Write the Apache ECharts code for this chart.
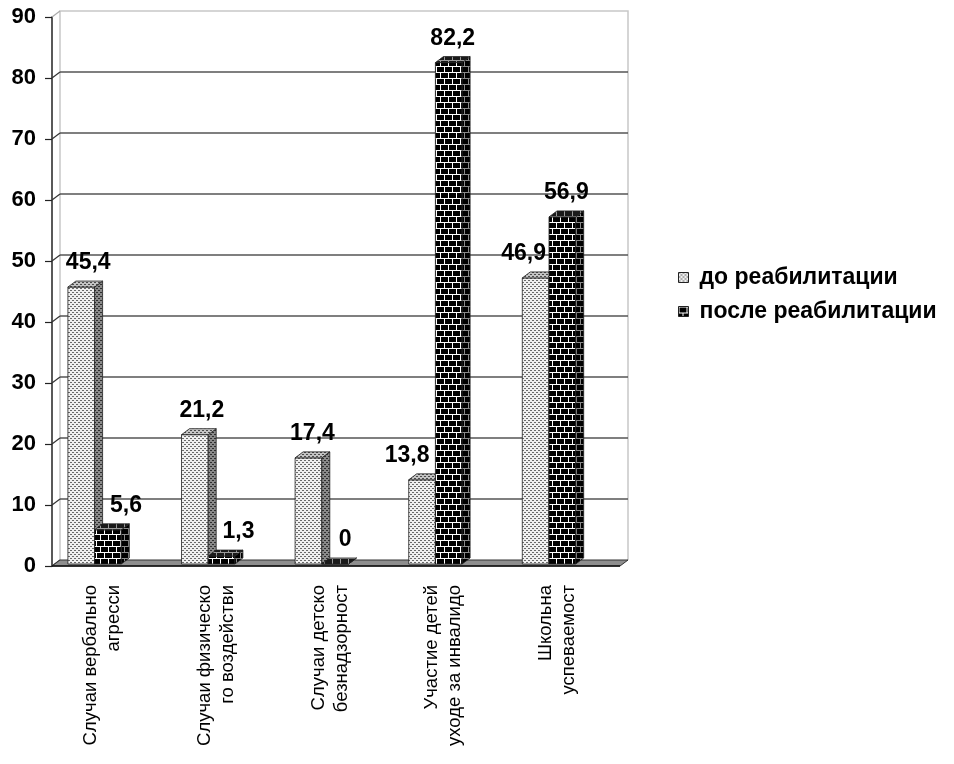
<!DOCTYPE html>
<html><head><meta charset="utf-8">
<script src="https://cdn.jsdelivr.net/npm/echarts@6/dist/echarts.min.js"></script>
<style>html,body{margin:0;padding:0;background:#fff}#c{width:954px;height:764px}</style>
</head><body><div id="c"></div>
<script>
// ---- data ----
const categories = [
  "Случаи вербально\nагресси",
  "Случаи физическо\nго воздействи",
  "Случаи детско\nбезнадзорност",
  "Участие детей\nуходе за инвалидо",
  "Школьна\nуспеваемост"
];
const seriesNames = ["до реабилитации", "после реабилитации"];
const before = [45.4, 21.2, 17.4, 13.8, 46.9];
const after = [5.6, 1.3, 0, 82.2, 56.9];
const yMin = 0, yMax = 90, yStep = 10;

// ---- styling helpers (not data) ----
const FONT = "'Liberation Sans', Arial, sans-serif";
const DX = 8, DY = 6, LIFT = 2;
const labelShiftBefore = [3, 3, 0, -19, -16];
const labelShiftAfter = [14, 13, 6, 0, 0];

function makePattern(w, h, draw) {
  const c = document.createElement('canvas');
  c.width = w; c.height = h;
  const g = c.getContext('2d');
  draw(g);
  return { image: c, repeat: 'repeat' };
}
function dots(bg, fg) {
  return makePattern(4, 4, g => {
    g.fillStyle = bg; g.fillRect(0, 0, 4, 4);
    g.fillStyle = fg; g.fillRect(0, 0, 2, 1); g.fillRect(2, 2, 2, 1);
  });
}
function bricks(bg, fg) {
  return makePattern(8, 12, g => {
    g.fillStyle = bg; g.fillRect(0, 0, 8, 12);
    g.fillStyle = fg;
    g.fillRect(0, 0, 8, 1); g.fillRect(0, 6, 8, 1);
    g.fillRect(0, 1, 1, 5); g.fillRect(4, 7, 1, 5);
  });
}
const P = {
  dotFront: dots('#f0f0f0', '#6a6a6a'),
  dotSide: dots('#8a8a8a', '#2e2e2e'),
  dotTop: dots('#c4c4c4', '#4a4a4a'),
  brickFront: bricks('#000000', '#ffffff'),
  brickSide: bricks('#000000', '#8a8a8a'),
  brickTop: bricks('#1a1a1a', '#9a9a9a')
};
const fills = [
  [P.dotFront, P.dotSide, P.dotTop],
  [P.brickFront, P.brickSide, P.brickTop]
];
const fmt = v => String(v).replace('.', ',');

function barRender(s, shifts) {
  return function (params, api) {
    const i = api.value(0), v = api.value(1);
    const base = api.coord([i, 0]), top = api.coord([i, v]);
    const band = api.size([1, 0])[0];
    const w = band * 0.235, gc = base[0] - band * 0.125;
    const x0 = s === 0 ? gc - w : gc, x1 = x0 + w;
    const y0 = base[1] - LIFT, y1 = top[1] - LIFT;
    const stroke = '#222';
    const f = fills[s];
    const shift = shifts[i];
    return {
      type: 'group',
      children: [
        { type: 'rect', shape: { x: x0, y: y1, width: w, height: Math.max(y0 - y1, 0) },
          style: { fill: f[0], stroke: stroke, lineWidth: 0.8 } },
        { type: 'polygon', shape: { points: [[x1, y0], [x1 + DX, y0 - DY], [x1 + DX, y1 - DY], [x1, y1]] },
          style: { fill: f[1], stroke: stroke, lineWidth: 0.8 } },
        { type: 'polygon', shape: { points: [[x0, y1], [x0 + DX, y1 - DY], [x1 + DX, y1 - DY], [x1, y1]] },
          style: { fill: f[2], stroke: stroke, lineWidth: 0.8 } },
        { type: 'text', x: (x0 + x1 + DX) / 2 + shift, y: y1 - 24,
          style: { text: fmt(v), font: 'bold 23px ' + FONT, fill: '#000', align: 'center', verticalAlign: 'middle' } }
      ]
    };
  };
}

function decorRender(params, api) {
  const cs = params.coordSys;
  const y0 = api.coord([0, yMin])[1];
  const yT = api.coord([0, yMax])[1];
  const xl = cs.x, xr = cs.x + cs.width;
  const ch = [];
  ch.push({ type: 'polyline', shape: { points: [[xl + DX, y0 - DY], [xl + DX, yT - DY], [xr + DX, yT - DY], [xr + DX, y0 - DY]] },
    style: { stroke: '#c8c8c8', lineWidth: 1.5, fill: null } });
  for (let v = yMin + yStep; v < yMax; v += yStep) {
    const y = api.coord([0, v])[1];
    ch.push({ type: 'line', shape: { x1: xl + DX, y1: y - DY, x2: xr + DX, y2: y - DY },
      style: { stroke: '#555', lineWidth: 1.4 } });
  }
  for (let v = yMin; v <= yMax; v += yStep) {
    const y = api.coord([0, v])[1];
    ch.push({ type: 'line', shape: { x1: xl, y1: y, x2: xl + DX, y2: y - DY },
      style: { stroke: v === yMax ? '#aaa' : '#333', lineWidth: 1.2 } });
  }
  ch.push({ type: 'polygon', shape: { points: [[xl, y0], [xr, y0], [xr + DX, y0 - DY], [xl + DX, y0 - DY]] },
    style: { fill: '#8e8e8e', stroke: '#333', lineWidth: 1 } });
  ch.push({ type: 'line', shape: { x1: xl, y1: y0, x2: xr, y2: y0 }, style: { stroke: '#111', lineWidth: 1.5 } });
  return { type: 'group', children: ch };
}

const chart = echarts.init(document.getElementById('c'), null, { renderer: 'canvas' });
chart.setOption({
  backgroundColor: '#fff',
  animation: false,
  grid: { left: 52, top: 17, width: 568, height: 549, containLabel: false },
  xAxis: {
    type: 'category', data: categories,
    axisLine: { show: false }, axisTick: { show: false },
    axisLabel: {
      interval: 0, rotate: 90, margin: 19, color: '#000', fontFamily: FONT, fontSize: 18.5,
      formatter: val => val.split('\n').map(l => '{a|' + l + '}').join('\n') + '\n{b| }',
      rich: {
        a: { fontFamily: FONT, fontSize: 18.5, lineHeight: 23, color: '#000' },
        b: { fontFamily: FONT, fontSize: 6, lineHeight: 12 }
      }
    }
  },
  yAxis: {
    type: 'value', min: yMin, max: yMax, interval: yStep,
    axisLine: { show: true, lineStyle: { color: '#222', width: 1.5 } },
    axisTick: { show: true, length: 7, lineStyle: { color: '#222', width: 1.2 } },
    splitLine: { show: false },
    axisLabel: { color: '#000', fontFamily: FONT, fontSize: 22, fontWeight: 'bold', margin: 16 }
  },
  legend: {
    orient: 'vertical', left: 673, top: 261,
    itemWidth: 10, itemHeight: 10, itemGap: 11, icon: 'rect',
    textStyle: { color: '#000', fontFamily: FONT, fontSize: 23, fontWeight: 'bold', padding: [0, 0, 0, 6] },
    data: [
      { name: seriesNames[0], itemStyle: { color: P.dotFront, borderColor: '#222', borderWidth: 1 } },
      { name: seriesNames[1], itemStyle: { color: P.brickFront, borderColor: '#222', borderWidth: 1 } }
    ]
  },
  series: [
    { type: 'custom', name: '_decor', renderItem: decorRender, data: [[0, 0]], encode: { x: 0, y: 1 }, clip: false, z: 1, silent: true },
    { type: 'custom', name: seriesNames[0], renderItem: barRender(0, labelShiftBefore),
      data: before.map((v, i) => [i, v]), encode: { x: 0, y: 1 }, clip: false, z: 2,
      itemStyle: { color: P.dotFront } },
    { type: 'custom', name: seriesNames[1], renderItem: barRender(1, labelShiftAfter),
      data: after.map((v, i) => [i, v]), encode: { x: 0, y: 1 }, clip: false, z: 3,
      itemStyle: { color: P.brickFront } }
  ]
});
</script></body></html>
